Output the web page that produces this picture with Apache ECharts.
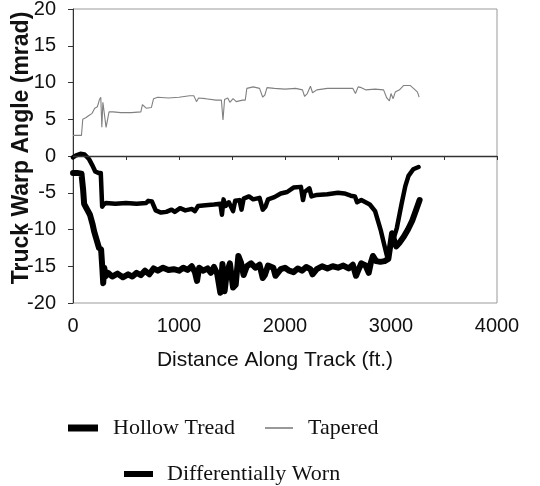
<!DOCTYPE html>
<html>
<head>
<meta charset="utf-8">
<script src="https://cdn.jsdelivr.net/npm/echarts@6/dist/echarts.min.js"></script>
<style>
html,body{margin:0;padding:0;background:#fff;}
#chart{width:540px;height:486px;}
</style>
</head>
<body>
<div id="chart"></div>
<script>
// Distance along track (ft.) and truck warp angle (mrad)
var xTicks = [0, 1000, 2000, 3000, 4000];
var yTicks = [-20, -15, -10, -5, 0, 5, 10, 15, 20];

var taperedX = [0,80,92,120,150,180,205,230,250,262,272,282,300,312,325,340,380,450,550,640,655,670,690,740,760,800,900,1000,1100,1140,1165,1185,1250,1350,1400,1415,1430,1460,1480,1510,1540,1600,1625,1640,1700,1760,1790,1810,1830,1900,2000,2100,2165,2185,2210,2240,2260,2300,2400,2500,2640,2665,2690,2720,2760,2850,2930,2960,2985,3000,3020,3040,3080,3120,3180,3220,3250,3265];
var taperedY = [2.8,2.8,5.0,5.2,5.5,5.8,6.5,6.7,7.7,8.0,3.9,7.3,7.2,3.9,4.1,6.0,6.0,5.9,5.9,6.0,7.0,7.2,6.5,6.6,7.8,8.0,7.9,8.0,8.2,8.2,7.4,7.9,7.8,7.6,7.6,4.9,7.7,7.9,7.3,7.8,7.4,7.6,7.6,9.2,9.4,9.2,8.0,8.3,9.3,9.2,9.1,9.2,9.0,8.1,8.5,9.5,8.6,9.0,9.2,9.2,9.2,8.5,9.4,9.3,9.0,9.1,9.0,7.9,7.5,8.5,7.8,8.7,9.0,9.6,9.6,9.1,8.7,8.0];

var hollowX = [0,40,80,95,105,130,160,185,200,225,245,265,278,285,295,305,330,370,420,470,520,560,600,640,680,720,760,800,850,900,950,1000,1040,1080,1120,1150,1170,1190,1230,1270,1300,1330,1360,1390,1410,1430,1450,1480,1510,1535,1560,1585,1610,1640,1680,1720,1760,1790,1810,1840,1890,1910,1960,2000,2040,2080,2120,2160,2200,2240,2260,2300,2350,2400,2450,2500,2550,2600,2640,2670,2690,2720,2760,2790,2810,2830,2860,2900,2940,2975,2995,3010,3030,3050,3080,3120,3160,3200,3240,3270];
var hollowY = [-2.3,-2.3,-2.4,-4.5,-6.5,-7.2,-8.0,-9.3,-10.3,-11.5,-12.5,-12.7,-15.5,-17.3,-15.2,-16.4,-15.9,-16.4,-16.0,-16.5,-16.1,-16.4,-15.9,-16.2,-15.6,-16.1,-15.3,-15.6,-15.2,-15.5,-15.4,-15.6,-15.2,-15.5,-15.0,-15.8,-17.0,-15.2,-15.6,-15.3,-15.9,-15.1,-16.0,-18.6,-14.7,-18.4,-16.0,-14.6,-17.9,-17.5,-13.6,-14.5,-16.2,-15.0,-14.6,-15.2,-14.8,-16.6,-16.2,-14.9,-15.2,-16.3,-15.4,-15.2,-15.6,-15.8,-15.3,-15.6,-15.1,-15.4,-16.1,-15.4,-15.0,-15.3,-15.0,-15.2,-14.9,-15.3,-14.8,-16.3,-15.6,-14.6,-14.9,-15.9,-14.5,-13.6,-14.3,-14.4,-14.3,-14.0,-12.0,-10.5,-11.5,-12.3,-11.8,-11.0,-10.0,-8.8,-7.2,-6.0];

var diffX = [0,30,70,110,150,180,210,240,262,275,290,310,400,500,600,690,710,745,765,780,830,880,930,960,1010,1060,1120,1150,1180,1250,1330,1390,1405,1420,1440,1470,1510,1530,1570,1590,1610,1660,1700,1760,1790,1815,1840,1900,1960,2020,2080,2150,2170,2185,2230,2250,2300,2400,2500,2560,2620,2660,2680,2720,2800,2850,2905,2935,2962,2990,3010,3030,3055,3100,3135,3165,3210,3260];
var diffY = [-0.2,0.1,0.3,0.2,-0.4,-1.2,-2.1,-2.3,-2.3,-6.9,-6.6,-6.4,-6.5,-6.4,-6.5,-6.4,-6.1,-6.2,-6.9,-7.4,-7.7,-7.6,-7.3,-7.6,-7.1,-7.4,-7.2,-7.5,-6.8,-6.7,-6.6,-6.5,-8.0,-5.9,-6.8,-6.3,-7.5,-6.1,-6.0,-7.3,-5.8,-5.5,-5.9,-5.7,-7.3,-6.9,-5.9,-5.6,-5.1,-4.9,-4.3,-4.2,-6.0,-4.9,-4.4,-5.5,-5.3,-5.2,-5.0,-5.1,-5.4,-5.5,-6.3,-6.0,-6.6,-7.5,-10.2,-12.0,-13.6,-12.6,-10.5,-11.0,-9.8,-6.5,-4.1,-2.7,-1.8,-1.5];

function zip(xs, ys) { return xs.map(function (x, i) { return [x, ys[i]]; }); }

var sans = 'Liberation Sans';
var serif = 'Liberation Serif';

var chart = echarts.init(document.getElementById('chart'));
chart.setOption({
  animation: false,
  backgroundColor: '#fff',
  grid: { left: 73, right: 43, top: 9, bottom: 183, show: true, borderColor: '#999', borderWidth: 1,
          containLabel: false, outerBoundsMode: 'none' },
  xAxis: {
    type: 'value', min: 0, max: 4000, interval: 500,
    name: 'Distance Along Track (ft.)', nameLocation: 'middle', nameGap: 47, nameMoveOverlap: false,
    nameTextStyle: { fontFamily: sans, fontSize: 21, color: '#111', padding: [0, 20, 0, 0] },
    axisLine: { show: true, lineStyle: { color: '#333', width: 1 } },
    axisTick: { show: true, length: 4, lineStyle: { color: '#333' } },
    axisLabel: {
      margin: 13, fontFamily: sans, fontSize: 20, color: '#111',
      formatter: function (v) { return xTicks.indexOf(v) >= 0 ? String(v) : ''; }
    },
    splitLine: { show: false }
  },
  yAxis: {
    type: 'value', min: -20, max: 20, interval: 5,
    name: 'Truck Warp Angle (mrad)', nameLocation: 'middle', nameGap: 40, nameMoveOverlap: false,
    nameTextStyle: { fontFamily: sans, fontSize: 23, fontWeight: 'bold', color: '#111', padding: [0, 0, 0, 16] },
    axisLine: { show: true, lineStyle: { color: '#333', width: 1 } },
    axisTick: { show: true, length: 5, lineStyle: { color: '#333' } },
    axisLabel: {
      margin: 17, fontFamily: sans, fontSize: 20, color: '#111',
      formatter: function (v) { return yTicks.indexOf(v) >= 0 ? String(v) : ''; }
    },
    splitLine: { show: false }
  },
  legend: [
    { left: 68, top: 417, padding: 0, icon: 'rect', itemWidth: 30, itemHeight: 7,
      textStyle: { fontFamily: serif, fontSize: 22, color: '#111', padding: [0, 0, 0, 10] },
      data: [{ name: 'Hollow Tread', itemStyle: { color: '#000' } }] },
    { left: 265, top: 417, padding: 0, icon: 'rect', itemWidth: 28, itemHeight: 1.5,
      textStyle: { fontFamily: serif, fontSize: 22, color: '#111', padding: [0, 0, 0, 10] },
      data: [{ name: 'Tapered', itemStyle: { color: '#777' } }] },
    { left: 124, top: 463, padding: 0, icon: 'rect', itemWidth: 29, itemHeight: 6,
      textStyle: { fontFamily: serif, fontSize: 22, color: '#111', padding: [0, 0, 0, 9] },
      data: [{ name: 'Differentially Worn', itemStyle: { color: '#000' } }] }
  ],
  series: [
    {
      name: 'Tapered', type: 'line', data: zip(taperedX, taperedY),
      showSymbol: false, symbol: 'none',
      lineStyle: { color: '#808080', width: 1.1 }, itemStyle: { color: '#777' },
      markLine: {
        silent: true, symbol: ['none', 'none'], label: { show: false },
        lineStyle: { color: '#333', width: 1.3, type: 'solid' },
        data: [{ yAxis: 0 }]
      }
    },
    {
      name: 'Hollow Tread', type: 'line', data: zip(hollowX, hollowY),
      showSymbol: false, symbol: 'none',
      lineStyle: { color: '#000', width: 6, join: 'round', cap: 'round' }, itemStyle: { color: '#000' }
    },
    {
      name: 'Differentially Worn', type: 'line', data: zip(diffX, diffY),
      showSymbol: false, symbol: 'none',
      lineStyle: { color: '#000', width: 4.5, join: 'round', cap: 'round' }, itemStyle: { color: '#000' }
    }
  ]
});
</script>
</body>
</html>
